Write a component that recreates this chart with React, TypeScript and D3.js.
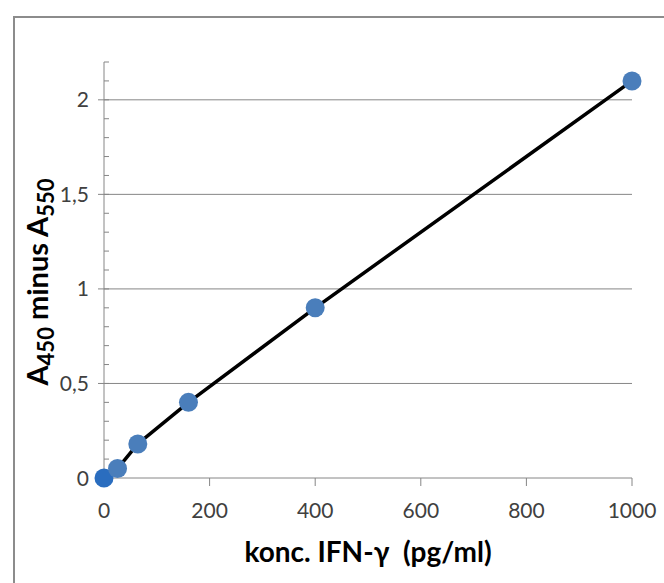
import React from "react";
import * as d3 from "d3";

const concentrations = [0, 25.6, 64, 160, 400, 1000];
const absorbance = [0, 0.05, 0.18, 0.4, 0.9, 2.1];
const xTicks = [0, 200, 400, 600, 800, 1000];
const yMajorTicks = [0, 0.5, 1, 1.5, 2];
const yMinorTicks = d3.range(0, 23).map((i) => i / 10);

const W = 664;
const H = 583;
const FONT = "Lato, 'Open Sans', sans-serif";

export default function App() {
  const x = d3.scaleLinear().domain([0, 1000]).range([104, 632]);
  const y = d3.scaleLinear().domain([0, 2.2]).range([478, 62]);
  const fmt = (v: number) => String(v).replace(".", ",");
  const pts = concentrations.map((c, i) => [c, absorbance[i]] as [number, number]);
  const line = d3
    .line<[number, number]>()
    .x((d) => x(d[0]))
    .y((d) => y(d[1]));
  const axisColor = "#868686";
  const textColor = "#404040";
  return (
    <svg
      width={W}
      height={H}
      style={{ position: "absolute", left: 0, top: 0, background: "#fff" }}
    >
      <rect x={0} y={0} width={W} height={H} fill="#fff" />
      {/* chart frame */}
      <path d={`M14,${H + 2} L14,17 L${W + 2},17`} fill="none" stroke="#8c8c8c" strokeWidth={2} />
      {/* gridlines */}
      {yMajorTicks
        .filter((v) => v > 0)
        .map((v) => (
          <line key={"g" + v} x1={x(0)} x2={x(1000)} y1={y(v)} y2={y(v)} stroke={axisColor} strokeWidth={1} />
        ))}
      {/* y axis */}
      <line x1={x(0)} x2={x(0)} y1={y(2.2)} y2={y(0)} stroke={axisColor} strokeWidth={1} />
      {yMinorTicks.map((v) => (
        <line key={"mt" + v} x1={x(0)} x2={x(0) + 5} y1={y(v)} y2={y(v)} stroke={axisColor} strokeWidth={1} />
      ))}
      {yMajorTicks.map((v) => (
        <g key={"yt" + v}>
          <line x1={x(0) - 6} x2={x(0)} y1={y(v)} y2={y(v)} stroke={axisColor} strokeWidth={1} />
          <text
            x={x(0) - 15}
            y={y(v)}
            dy="0.36em"
            textAnchor="end"
            fontFamily={FONT}
            fontSize={21}
            fill={textColor}
          >
            {fmt(v)}
          </text>
        </g>
      ))}
      {/* x axis */}
      <line x1={x(0)} x2={x(1000)} y1={y(0)} y2={y(0)} stroke={axisColor} strokeWidth={1} />
      {xTicks.map((v) => (
        <g key={"xt" + v}>
          <line x1={x(v)} x2={x(v)} y1={y(0)} y2={y(0) + 8} stroke={axisColor} strokeWidth={1} />
          <text
            x={x(v)}
            y={y(0) + 40}
            textAnchor="middle"
            fontFamily={FONT}
            fontSize={21}
            fill={textColor}
          >
            {v}
          </text>
        </g>
      ))}
      {/* data line */}
      <path d={line(pts) || ""} fill="none" stroke="#000" strokeWidth={3.5} strokeLinejoin="round" />
      {pts.map((p, i) => (
        <circle
          key={"p" + i}
          cx={x(p[0])}
          cy={y(p[1])}
          r={9.5}
          fill={i === 0 ? "#2a6dbf" : "#4a7ebb"}
        />
      ))}
      {/* axis titles */}
      <text
        x={368}
        y={562}
        textAnchor="middle"
        fontFamily={FONT}
        fontWeight="bold"
        fontSize={28}
        fill="#000"
      >
        {"konc. IFN-γ\u00a0\u00a0(pg/ml)"}
      </text>
      <text
        transform={`translate(48,282) rotate(-90)`}
        textAnchor="middle"
        fontFamily={FONT}
        fontWeight="bold"
        fontSize={29}
        fill="#000"
      >
        A<tspan fontSize={22} dy={6}>450</tspan>
        <tspan dy={-6}>{"\u00a0minus A"}</tspan>
        <tspan fontSize={22} dy={6}>550</tspan>
      </text>
    </svg>
  );
}
